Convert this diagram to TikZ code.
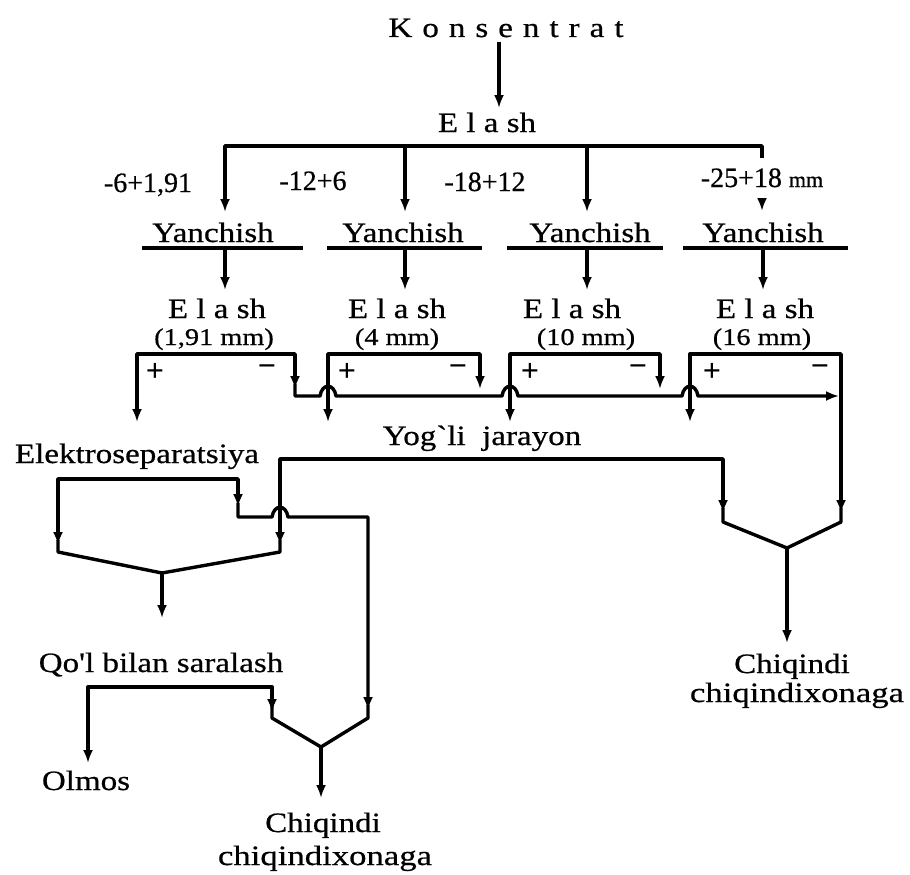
\documentclass[tikz,border=0pt]{standalone}
\usepackage{fontspec}
\setmainfont{Liberation Serif}
\newfontfamily\wf[FakeStretch=1.18,FakeBold=0.6]{Liberation Serif}
\newfontfamily\wff[FakeStretch=1.24,FakeBold=0.6]{Liberation Serif}
\newfontfamily\nf[FakeBold=0.6]{Liberation Serif}
\usetikzlibrary{arrows.meta}
\newcommand\ks{\hspace{10pt}}
\begin{document}
\begin{tikzpicture}[x=1pt,y=-1pt,
  ln/.style={line width=3.4pt,line join=round},
  tip/.tip={Latex[length=13pt,width=10pt]},
  arr/.style={ln,-tip},
  barr/.style={ln,tip-tip},
  txt/.style={font=\wf\fontsize{28}{30}\selectfont,inner sep=0pt,anchor=base},
  wtxt/.style={font=\wff\fontsize{28}{30}\selectfont,inner sep=0pt,anchor=base},
  lbl/.style={font=\nf\fontsize{28}{30}\selectfont,inner sep=0pt,anchor=base},
  sm/.style={font=\wf\fontsize{24}{26}\selectfont,inner sep=0pt,anchor=base},
  sgn/.style={font=\bfseries\fontsize{32}{34}\selectfont,inner sep=0pt}]
\useasboundingbox[fill=white] (0,0) rectangle (910,875);

% texts
\node[txt] (kons) at (506,37) {K\ks o\ks n\ks s\ks e\ks n\ks t\ks r\ks a\ks t};
\node[txt] (e0) at (487,132) {E l a sh};
\node[lbl] (l1) at (148,192) {-6+1,91};
\node[lbl] (l2) at (313,190) {-12+6};
\node[lbl] (l3) at (485,191) {-18+12};
\node[lbl] (l4) at (762,187) {-25+18 {\fontsize{22}{24}\selectfont mm}};
\node[txt] (y1) at (213,242) {Yanchish};
\node[txt] (y2) at (403,242) {Yanchish};
\node[txt] (y3) at (590,242) {Yanchish};
\node[txt] (y4) at (763,242) {Yanchish};
\node[txt] (e1) at (217,318) {E l a sh};
\node[txt] (e2) at (397,318) {E l a sh};
\node[txt] (e3) at (572,318) {E l a sh};
\node[txt] (e4) at (765,318) {E l a sh};
\node[sm] (m1) at (214,345) {(1,91 mm)};
\node[sm] (m2) at (397,345) {(4 mm)};
\node[sm] (m3) at (586,345) {(10 mm)};
\node[sm] (m4) at (762,345) {(16 mm)};
\node[sgn] (p1) at (155,372) {+};
\node[sgn] (n1) at (267,371) {−};
\node[sgn] (p2) at (347,372) {+};
\node[sgn] (n2) at (458,371) {−};
\node[sgn] (p3) at (530,372) {+};
\node[sgn] (n3) at (638,371) {−};
\node[sgn] (p4) at (712,372) {+};
\node[sgn] (n4) at (820,371) {−};
\node[txt] (yog) at (482,445) {Yog\char96 li\ \ jarayon};
\node[txt] (elek) at (137,463) {Elektroseparatsiya};
\node[txt] (qol) at (161,672) {Qo\char39 l bilan saralash};
\node[txt] (olm) at (86,790) {Olmos};
\node[txt] (ch1) at (323,832) {Chiqindi};
\node[wtxt] (cx1) at (325,865) {chiqindixonaga};
\node[txt] (ch2) at (792,673) {Chiqindi};
\node[wtxt] (cx2) at (797,702) {chiqindixonaga};

% top feed and screening
\coordinate (k1) at (499,42); \coordinate (k2) at (499,108);
\draw[arr] (k1) -- (k2);
\coordinate (ta) at (225,212); \coordinate (tb) at (225,146);
\coordinate (tc) at (762,146); \coordinate (td) at (762,158);
\draw[arr] (td) -- (tc) -- (tb) -- (ta);
\coordinate (s2a) at (405,146); \coordinate (s2b) at (405,212);
\coordinate (s3a) at (587,146); \coordinate (s3b) at (587,212);
\draw[arr] (s2a) -- (s2b);
\draw[arr] (s3a) -- (s3b);
\coordinate (s4a) at (762,198); \coordinate (s4b) at (762,211);
\draw[arr] (s4a) -- (s4b);

% Yanchish underlines and outputs
\foreach \a/\b/\c in {142/303/225,327/482/405,507/663/587,683/848/763}{
  \draw[ln] (\a,248) coordinate (u\c a) -- (\b,248) coordinate (u\c b);
  \coordinate (v\c a) at (\c,248); \coordinate (v\c b) at (\c,290);
  \draw[arr] (v\c a) -- (v\c b);
}

% screening brackets
\foreach \L/\R in {137/295,328/480,510/660}{
  \coordinate (bl\L) at (\L,422); \coordinate (bt\L) at (\L,354);
  \coordinate (bu\L) at (\R,354); \coordinate (br\L) at (\R,389);
  \draw[barr] (bl\L) -- (bt\L) -- (bu\L) -- (br\L);
}
\coordinate (bl4) at (690,422); \coordinate (bt4) at (690,354);
\coordinate (bu4) at (841,354); \coordinate (br4) at (841,513);
\draw[barr] (bl4) -- (bt4) -- (bu4) -- (br4);

% undersize collector with hops
\coordinate (c0) at (295,384); \coordinate (c1) at (295,396);
\coordinate (ce) at (839,396);
\draw[arr] (c0) -- (c1) -- (320,396) .. controls (322,383) and (334,383) .. (336,396)
  -- (502,396) .. controls (504,383) and (516,383) .. (518,396)
  -- (682,396) .. controls (684,383) and (696,383) .. (698,396) -- (ce);

% greasy process line
\coordinate (g1) at (280,545); \coordinate (g2) at (280,459);
\coordinate (g3) at (723,459); \coordinate (g4) at (723,513);
\draw[barr] (g1) -- (g2) -- (g3) -- (g4);

% electroseparation
\coordinate (es1) at (58,545); \coordinate (es2) at (58,479);
\coordinate (es3) at (238,479); \coordinate (es4) at (238,507);
\draw[barr] (es1) -- (es2) -- (es3) -- (es4);
\coordinate (ec0) at (238,503); \coordinate (ec1) at (238,517);
\coordinate (ec2) at (368,517); \coordinate (ec3) at (368,710);
\draw[arr] (ec0) -- (ec1) -- (272,517) .. controls (274,504) and (286,504) .. (288,517)
  -- (ec2) -- (ec3);

% funnel 1
\coordinate (f1a) at (58,540); \coordinate (f1b) at (58,552);
\coordinate (f1j) at (162,573); \coordinate (f1c) at (280,552);
\coordinate (f1d) at (280,540); \coordinate (f1o) at (162,618);
\draw[ln] (f1a) -- (f1b) -- (f1j) -- (f1c) -- (f1d);
\draw[arr] (f1j) -- (f1o);

% hand sorting
\coordinate (q1) at (88,763); \coordinate (q2) at (88,687);
\coordinate (q3) at (272,687); \coordinate (q4) at (272,712);
\draw[barr] (q1) -- (q2) -- (q3) -- (q4);

% funnel 2
\coordinate (f2a) at (272,705); \coordinate (f2b) at (272,718);
\coordinate (f2j) at (321,747); \coordinate (f2c) at (368,718);
\coordinate (f2d) at (368,705); \coordinate (f2o) at (321,798);
\draw[ln] (f2a) -- (f2b) -- (f2j) -- (f2c) -- (f2d);
\draw[arr] (f2j) -- (f2o);

% funnel 3
\coordinate (f3a) at (723,508); \coordinate (f3b) at (723,522);
\coordinate (f3j) at (787,548); \coordinate (f3c) at (841,522);
\coordinate (f3d) at (841,508); \coordinate (f3o) at (787,643);
\draw[ln] (f3a) -- (f3b) -- (f3j) -- (f3c) -- (f3d);
\draw[arr] (f3j) -- (f3o);
\end{tikzpicture}
\end{document}
